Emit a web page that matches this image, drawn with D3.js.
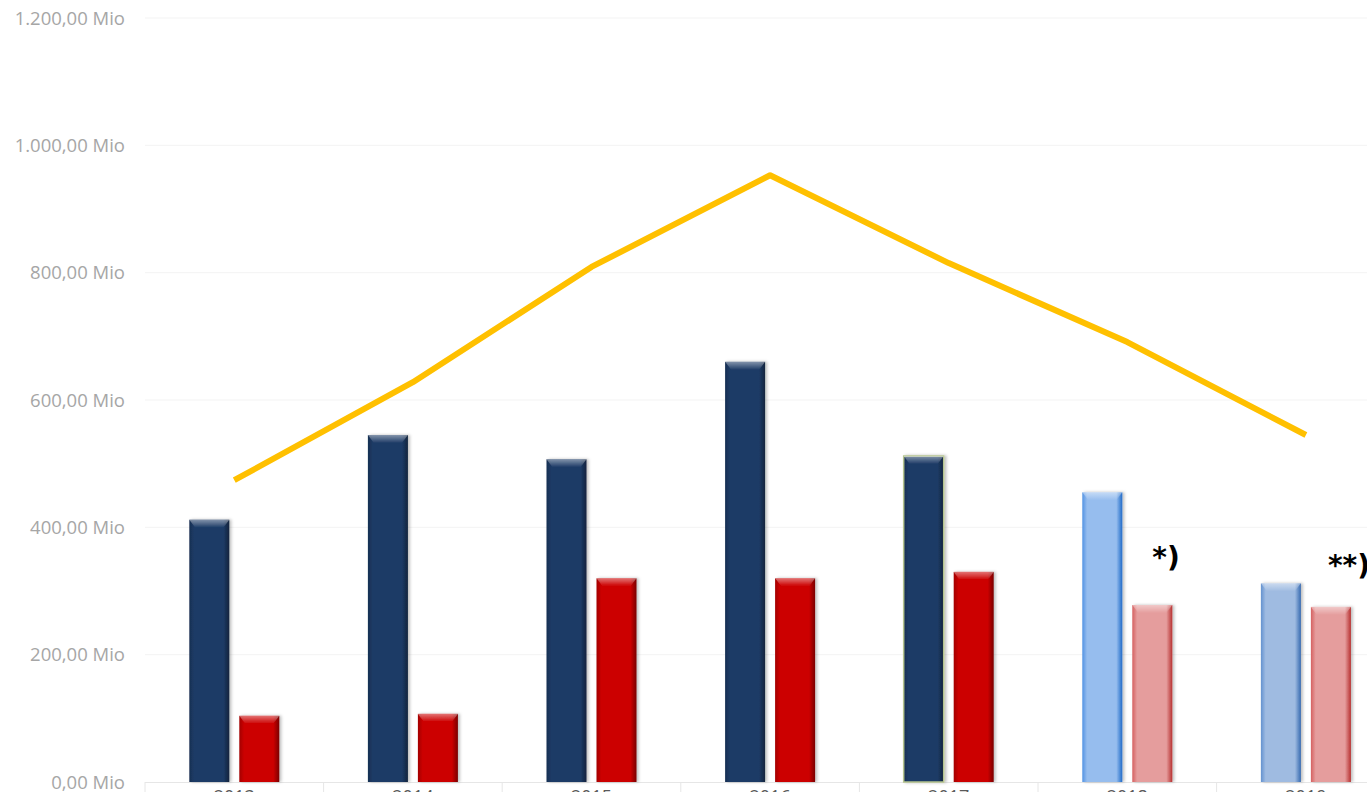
<!DOCTYPE html>
<html><head><meta charset="utf-8">
<script src="https://cdn.jsdelivr.net/npm/d3@7/dist/d3.min.js"></script>
<style>html,body{margin:0;padding:0;background:#fff;overflow:hidden}</style>
</head><body><svg id="c" width="1367" height="792"></svg>
<script>
const years = ["2013","2014","2015","2016","2017","2018","2019"];
const seriesA = [412, 545, 507, 660, 512, 455, 312];
const seriesB = [104, 107, 320, 320, 330, 278, 275];
const lineVals = [474, 628, 809, 953, 815, 691, 545];
const yTicks = [0, 200, 400, 600, 800, 1000, 1200];
const tickLabels = ["0,00 Mio","200,00 Mio","400,00 Mio","600,00 Mio","800,00 Mio","1.000,00 Mio","1.200,00 Mio"];
const colorsA = ["#1d3b66","#1d3b66","#1d3b66","#1d3b66","#1d3b66","#96bdee","#9fbbe1"];
const colorsB = ["#cc0000","#cc0000","#cc0000","#cc0000","#cc0000","#e59d9d","#e59d9d"];
const notes = [{year:"2018", text:"*)"},{year:"2019", text:"**)"}];

const svg = d3.select("#c");
const x0 = 145, bandW = 178.6;
const x = d3.scaleBand().domain(years).range([x0, x0 + bandW*years.length]).paddingInner(0).paddingOuter(0);
const y = d3.scaleLinear().domain([0,1200]).range([782,18]);
const barW = 40, gap = 10;

const defs = svg.append("defs");
function shade(c,k){const h=d3.hsl(c); h.l=Math.max(0,Math.min(1,h.l*k)); return h.formatHex();}
function grad(id,c){
  const g = defs.append("linearGradient").attr("id",id).attr("x1","0").attr("x2","1").attr("y1","0").attr("y2","0");
  g.append("stop").attr("offset","0").attr("stop-color",shade(c,0.8));
  g.append("stop").attr("offset","0.12").attr("stop-color",c);
  g.append("stop").attr("offset","0.85").attr("stop-color",c);
  g.append("stop").attr("offset","1").attr("stop-color",shade(c,0.6));
  return "url(#"+id+")";
}
const topG = defs.append("linearGradient").attr("id","topg").attr("x1","0").attr("x2","0").attr("y1","0").attr("y2","1");
topG.append("stop").attr("offset","0").attr("stop-color","#fff").attr("stop-opacity",0.45);
topG.append("stop").attr("offset","1").attr("stop-color","#fff").attr("stop-opacity",0);
const f = defs.append("filter").attr("id","sh").attr("x","-20%").attr("y","-5%").attr("width","150%").attr("height","110%");
f.append("feDropShadow").attr("dx",2).attr("dy",0).attr("stdDeviation",1.5).attr("flood-color","#000").attr("flood-opacity",0.25);

// gridlines
svg.append("g").selectAll("line").data(yTicks.slice(1)).join("line")
  .attr("x1",x0).attr("x2",1367).attr("y1",d=>y(d)).attr("y2",d=>y(d))
  .attr("stroke","#f3f3f3").attr("stroke-width",1);

// y labels
svg.append("g").selectAll("text").data(yTicks).join("text")
  .attr("x",125).attr("y",d=>y(d)).attr("dy","0.36em").attr("text-anchor","end")
  .attr("font-family","'Open Sans', sans-serif").attr("font-size",18.5).attr("fill","#a6a6a6")
  .text((d,i)=>tickLabels[i]);

// x axis
const xa = svg.append("g");
xa.append("line").attr("x1",x0).attr("x2",1367).attr("y1",782.5).attr("y2",782.5).attr("stroke","#e6e6e6");
xa.selectAll("line.t").data(years.concat(["end"])).join("line").attr("class","t")
  .attr("x1",(d,i)=>x0+i*bandW).attr("x2",(d,i)=>x0+i*bandW).attr("y1",782).attr("y2",792).attr("stroke","#e6e6e6");
xa.selectAll("text").data(years).join("text")
  .attr("x",d=>x(d)+x.bandwidth()/2).attr("y",803).attr("text-anchor","middle")
  .attr("font-family","'Open Sans', sans-serif").attr("font-size",18).attr("fill","#595959").text(d=>d);

function drawBars(vals, cols, offset, pfx, strokeIdx){
  const g = svg.append("g");
  vals.forEach((v,i)=>{
    const bx = x(years[i]) + x.bandwidth()/2 + offset;
    const top = y(v), h = y(0)-y(v);
    const gg = g.append("g").attr("filter","url(#sh)");
    gg.append("rect").attr("x",bx).attr("y",top).attr("width",barW).attr("height",h)
      .attr("fill",grad(pfx+i,cols[i]))
      .attr("stroke", strokeIdx===i ? "#b5c48f" : "none").attr("stroke-width",strokeIdx===i?1.5:0);
    gg.append("path").attr("d",`M${bx},${top}L${bx+barW},${top}L${bx+barW-6},${top+8}L${bx+6},${top+8}Z`)
      .attr("fill","url(#topg)");
  });
}
drawBars(seriesA, colorsA, -(barW+gap/2), "ga", 4);
drawBars(seriesB, colorsB, gap/2, "gb", -1);

// line
svg.append("path").datum(lineVals)
  .attr("d", d3.line().x((d,i)=>x(years[i])+x.bandwidth()/2).y(d=>y(d)))
  .attr("fill","none").attr("stroke","#ffc000").attr("stroke-width",6).attr("stroke-linejoin","round");

// notes
svg.append("g").selectAll("text").data(notes).join("text")
  .attr("x",(d,i)=> i===0 ? x(d.year)+x.bandwidth()/2+25 : x(d.year)+x.bandwidth()/2+22)
  .attr("y",(d,i)=> i===0 ? 567 : 575)
  .attr("font-family","'DejaVu Sans', sans-serif").attr("font-weight","bold").attr("font-size",28).attr("fill","#000")
  .text(d=>d.text);
</script></body></html>
